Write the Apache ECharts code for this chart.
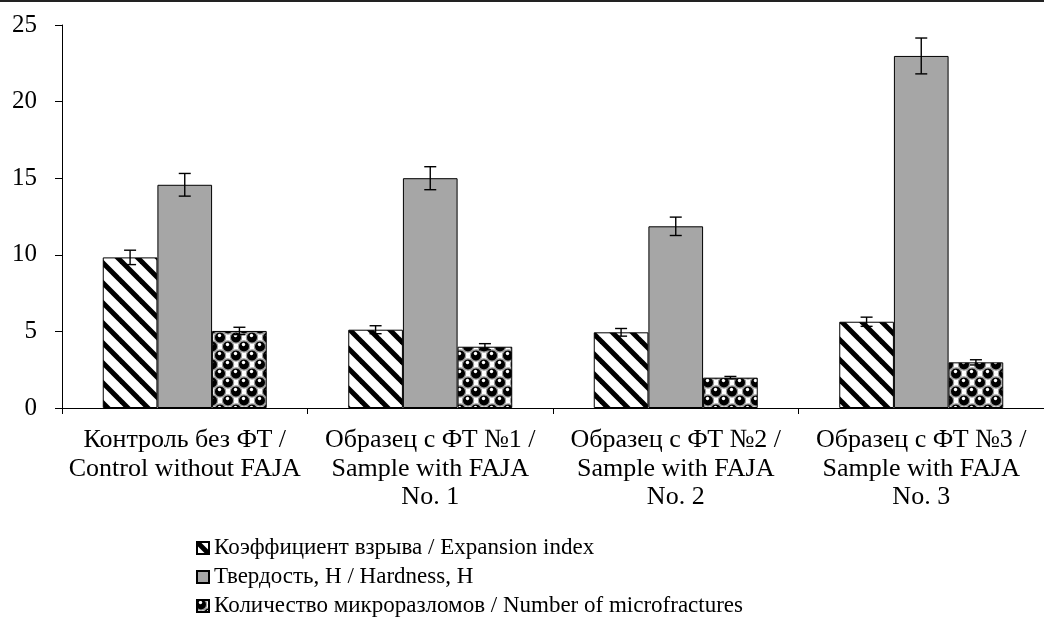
<!DOCTYPE html>
<html>
<head>
<meta charset="utf-8">
<script src="https://cdn.jsdelivr.net/npm/echarts@6/dist/echarts.min.js"></script>
<style>
html,body{margin:0;padding:0;background:#fff;}
#chart{width:1044px;height:637px;}
</style>
</head>
<body>
<div id="chart"></div>
<script>
const categories = [
  'Контроль без ФТ /\nControl without FAJA',
  'Образец с ФТ №1 /\nSample with FAJA\nNo. 1',
  'Образец с ФТ №2 /\nSample with FAJA\nNo. 2',
  'Образец с ФТ №3 /\nSample with FAJA\nNo. 3'
];
const seriesNames = [
  'Коэффициент взрыва / Expansion index',
  'Твердость, Н / Hardness, H',
  'Количество микроразломов / Number of microfractures'
];
const expansion = [9.83, 5.11, 4.94, 5.63];
const expansionErr = [0.47, 0.26, 0.25, 0.3];
const hardness = [14.57, 15.0, 11.86, 22.98];
const hardnessErr = [0.74, 0.75, 0.6, 1.17];
const fractures = [5.03, 4.0, 1.98, 2.98];
const fracturesErr = [0.24, 0.2, 0.08, 0.17];
const yTicks = [0, 5, 10, 15, 20, 25];

const FONT = 'Liberation Serif';
const GAP = 0.332;

function stripePattern() {
  const c = document.createElement('canvas');
  c.width = 20; c.height = 20;
  const g = c.getContext('2d');
  g.fillStyle = '#fff'; g.fillRect(0, 0, 20, 20);
  g.strokeStyle = '#000'; g.lineWidth = 5;
  for (let k = -20; k <= 20; k += 20) {
    g.beginPath(); g.moveTo(k - 5, -5); g.lineTo(k + 25, 25); g.stroke();
  }
  return c;
}
function spherePattern() {
  const w = 16, h = 18;
  const c = document.createElement('canvas');
  c.width = w; c.height = h;
  const g = c.getContext('2d');
  g.fillStyle = '#fff'; g.fillRect(0, 0, w, h);
  const centers = [];
  for (let i = -1; i <= 2; i++) {
    for (let j = -1; j <= 2; j++) {
      centers.push([i * w + 4, j * h + 4.5]);
      centers.push([i * w + 12, j * h + 13.5]);
    }
  }
  centers.forEach(([x, y]) => {
    g.beginPath(); g.arc(x, y, 5.6, 0, Math.PI * 2);
    g.fillStyle = '#000'; g.fill();
    g.lineWidth = 1.2; g.strokeStyle = '#9a9a9a'; g.stroke();
  });
  centers.forEach(([x, y]) => {
    g.beginPath(); g.arc(x - 0.5, y - 2, 1.7, 0, Math.PI * 2);
    g.fillStyle = '#fff'; g.fill();
  });
  return c;
}

const fills = [
  { image: stripePattern(), repeat: 'repeat' },
  '#a6a6a6',
  { image: spherePattern(), repeat: 'repeat' }
];
const values = [expansion, hardness, fractures];
const errors = [expansionErr, hardnessErr, fracturesErr];

function errorSeries(idx) {
  return {
    type: 'custom',
    name: seriesNames[idx] + ' err',
    z: 10,
    silent: true,
    data: values[idx].map((v, i) => [i, v, errors[idx][i]]),
    renderItem: function (params, api) {
      const cat = api.value(0), v = api.value(1), e = api.value(2);
      const c = api.coord([cat, v]);
      const band = api.size([1, 0])[0];
      const bw = band * (1 - GAP) / 3;
      const x = c[0] + (idx - 1) * bw;
      const yt = api.coord([cat, v + e])[1];
      const yb = api.coord([cat, v - e])[1];
      const hw = 6;
      const st = { stroke: '#000', lineWidth: 1.4 };
      return {
        type: 'group',
        children: [
          { type: 'line', shape: { x1: x, y1: yt, x2: x, y2: yb }, style: st },
          { type: 'line', shape: { x1: x - hw, y1: yt, x2: x + hw, y2: yt }, style: st },
          { type: 'line', shape: { x1: x - hw, y1: yb, x2: x + hw, y2: yb }, style: st }
        ]
      };
    }
  };
}

const chart = echarts.init(document.getElementById('chart'), null, { renderer: 'canvas' });
const option = {
  animation: false,
  backgroundColor: '#fff',
  textStyle: { fontFamily: FONT, color: '#000' },
  grid: { left: 62, right: -6, top: 25, bottom: 229, containLabel: false },
  graphic: [
    { type: 'line', shape: { x1: 0, y1: 1, x2: 1044, y2: 1 }, style: { stroke: '#222', lineWidth: 2 } }
  ],
  legend: {
    orient: 'vertical',
    left: 191,
    top: 530,
    itemWidth: 12,
    itemHeight: 12,
    itemGap: 3,
    icon: 'rect',
    data: seriesNames,
    textStyle: { fontFamily: FONT, fontSize: 23, color: '#000', lineHeight: 26 }
  },
  xAxis: {
    type: 'category',
    data: categories,
    boundaryGap: true,
    axisLine: { lineStyle: { color: '#000', width: 1 } },
    axisTick: { show: true, length: 6, lineStyle: { color: '#000' } },
    axisLabel: { interval: 0, fontFamily: FONT, fontSize: 26, lineHeight: 28.5, color: '#000', margin: 18, align: 'center' }
  },
  yAxis: {
    type: 'value',
    min: yTicks[0],
    max: yTicks[yTicks.length - 1],
    interval: 5,
    axisLine: { show: true, lineStyle: { color: '#000', width: 1 } },
    axisTick: { show: true, length: 7, lineStyle: { color: '#000' } },
    splitLine: { show: false },
    axisLabel: { fontFamily: FONT, fontSize: 25, color: '#000', margin: 25 }
  },
  series: [0, 1, 2].map(i => ({
    type: 'bar',
    name: seriesNames[i],
    data: values[i],
    barGap: '0%',
    barCategoryGap: (GAP * 100) + '%',
    itemStyle: { color: fills[i], borderColor: '#000', borderWidth: 1 }
  })).concat([0, 1, 2].map(errorSeries))
};
chart.setOption(option);
</script>
</body>
</html>
